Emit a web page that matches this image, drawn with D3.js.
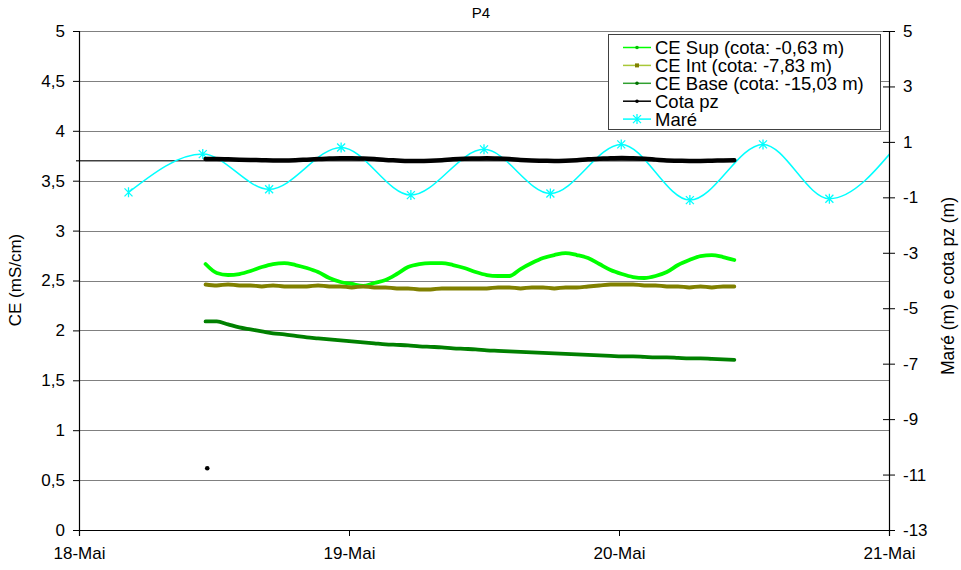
<!DOCTYPE html>
<html>
<head>
<meta charset="utf-8">
<script src="https://cdn.jsdelivr.net/npm/d3@7"></script>
<style>
  body { margin: 0; background: #fff; }
  text { font-family: "Liberation Sans", Arial, sans-serif; fill: #000; }
</style>
</head>
<body>
<svg id="chart" width="961" height="570"></svg>
<script>
// x categories: hours since 18-Mai 00:00
var dayHours = [0, 24, 48, 72];
var dayLabels = ["18-Mai", "19-Mai", "20-Mai", "21-Mai"];
var leftTicks = [0, 0.5, 1, 1.5, 2, 2.5, 3, 3.5, 4, 4.5, 5];
var rightTicks = [-13, -11, -9, -7, -5, -3, -1, 1, 3, 5];

// probe readings, one per hour
var probeHours = [11.25, 12.25, 13.25, 14.25, 15.25, 16.25, 17.25, 18.25, 19.25, 20.25,
  21.25, 22.25, 23.25, 24.25, 25.25, 26.25, 27.25, 28.25, 29.25, 30.25,
  31.25, 32.25, 33.25, 34.25, 35.25, 36.25, 37.25, 38.25, 39.25, 40.25,
  41.25, 42.25, 43.25, 44.25, 45.25, 46.25, 47.25, 48.25, 49.25, 50.25,
  51.25, 52.25, 53.25, 54.25, 55.25, 56.25, 57.25, 58.25];

var ceSup = [2.665, 2.575, 2.555, 2.565, 2.595, 2.635, 2.665, 2.675, 2.655, 2.625,
  2.585, 2.525, 2.485, 2.465, 2.445, 2.475, 2.505, 2.565, 2.635, 2.665,
  2.675, 2.675, 2.655, 2.625, 2.585, 2.555, 2.545, 2.545, 2.615, 2.675,
  2.725, 2.755, 2.775, 2.755, 2.725, 2.665, 2.605, 2.565, 2.535, 2.525,
  2.545, 2.585, 2.655, 2.705, 2.745, 2.755, 2.735, 2.705];

var ceInt = [2.46, 2.45, 2.46, 2.45, 2.45, 2.44, 2.45, 2.44, 2.44, 2.44,
  2.45, 2.44, 2.44, 2.43, 2.44, 2.43, 2.43, 2.42, 2.42, 2.41,
  2.41, 2.42, 2.42, 2.42, 2.42, 2.42, 2.43, 2.43, 2.42, 2.43,
  2.43, 2.42, 2.43, 2.43, 2.44, 2.45, 2.46, 2.46, 2.46, 2.45,
  2.45, 2.44, 2.44, 2.43, 2.44, 2.43, 2.44, 2.44];

var ceBase = [2.09, 2.09, 2.06, 2.03, 2.01, 1.99, 1.97, 1.96, 1.945, 1.93,
  1.92, 1.91, 1.90, 1.89, 1.88, 1.87, 1.86, 1.855, 1.85, 1.84,
  1.835, 1.83, 1.82, 1.815, 1.81, 1.80, 1.795, 1.79, 1.785, 1.78,
  1.775, 1.77, 1.765, 1.76, 1.755, 1.75, 1.745, 1.74, 1.74, 1.735,
  1.73, 1.73, 1.725, 1.72, 1.72, 1.715, 1.71, 1.705];

var cotaPz = [0.38, 0.38, 0.37, 0.36, 0.35, 0.34, 0.33, 0.33, 0.34, 0.36,
  0.38, 0.40, 0.41, 0.41, 0.40, 0.38, 0.35, 0.33, 0.31, 0.31,
  0.32, 0.34, 0.37, 0.39, 0.40, 0.41, 0.40, 0.38, 0.35, 0.33,
  0.32, 0.31, 0.32, 0.34, 0.37, 0.39, 0.41, 0.42, 0.41, 0.39,
  0.36, 0.33, 0.32, 0.31, 0.31, 0.32, 0.33, 0.34];

// lone cota pz reading before the series
var cotaLoneHour = [11.4];
var cotaLoneValue = [-10.77];

// tide extremes
var tideHours = [4.4, 11.0, 16.9, 23.3, 29.5, 36.0, 41.9, 48.2, 54.3, 60.8, 66.7, 73.0];
var tideLevel = [-0.82, 0.56, -0.71, 0.80, -0.92, 0.73, -0.86, 0.91, -1.10, 0.91, -1.05, 1.02];

var refLevel = 3.7;

var svg = d3.select("#chart");
var mLeft = 79, mRight = 889, mTop = 31, mBottom = 530;

var x = d3.scaleLinear().domain([0, 72]).range([mLeft, mRight]);
var yL = d3.scaleLinear().domain([0, 5]).range([mBottom, mTop]);
var yR = d3.scaleLinear().domain([-13, 5]).range([mBottom, mTop]);

svg.append("defs").append("clipPath").attr("id", "plot")
  .append("rect").attr("x", mLeft).attr("y", mTop - 2).attr("width", mRight - mLeft).attr("height", mBottom - mTop + 4);

// gridlines
svg.append("g").selectAll("line")
  .data(leftTicks.filter(d => d > 0))
  .enter().append("line")
  .attr("x1", mLeft).attr("x2", mRight)
  .attr("y1", d => Math.round(yL(d)) + 0.5).attr("y2", d => Math.round(yL(d)) + 0.5)
  .attr("stroke", "#808080").attr("stroke-width", 1);

// reference line
svg.append("line")
  .attr("x1", mLeft - 3).attr("x2", x(probeHours[probeHours.length - 1]))
  .attr("y1", yL(refLevel)).attr("y2", yL(refLevel))
  .attr("stroke", "#404040").attr("stroke-width", 1.5);

var plot = svg.append("g").attr("clip-path", "url(#plot)");

// tide
var tide = tideHours.map((h, i) => [h, tideLevel[i]]);
plot.append("path")
  .datum(tide)
  .attr("fill", "none").attr("stroke", "#00ffff").attr("stroke-width", 1.5)
  .attr("d", d3.line().x(d => x(d[0])).y(d => yR(d[1])).curve(d3.curveMonotoneX));

var star = "M-4,-4L4,4M-4,4L4,-4M0,-5L0,5";
plot.selectAll(".tm")
  .data(tide)
  .enter().append("path")
  .attr("class", "tm")
  .attr("transform", d => "translate(" + x(d[0]) + "," + yR(d[1]) + ")")
  .attr("d", star)
  .attr("stroke", "#00ffff").attr("stroke-width", 1.3).attr("fill", "none");

// CE series (left axis)
function drawLeft(values, color, w) {
  plot.append("path")
    .datum(probeHours.map((h, i) => [h, values[i]]))
    .attr("fill", "none").attr("stroke", color).attr("stroke-width", w)
    .attr("stroke-linejoin", "round").attr("stroke-linecap", "round")
    .attr("d", d3.line().x(d => x(d[0])).y(d => yL(d[1])).curve(d3.curveMonotoneX));
}
drawLeft(ceSup, "#00ff00", 3.8);
drawLeft(ceInt, "#808000", 3.8);
drawLeft(ceBase, "#008000", 3.8);

// cota pz (right axis)
plot.append("path")
  .datum(probeHours.map((h, i) => [h, cotaPz[i]]))
  .attr("fill", "none").attr("stroke", "#000").attr("stroke-width", 4.5)
  .attr("stroke-linejoin", "round").attr("stroke-linecap", "round")
  .attr("d", d3.line().x(d => x(d[0])).y(d => yR(d[1])).curve(d3.curveMonotoneX));

plot.selectAll(".lone")
  .data(cotaLoneHour)
  .enter().append("circle")
  .attr("cx", (d) => x(d)).attr("cy", (d, i) => yR(cotaLoneValue[i]))
  .attr("r", 2.3).attr("fill", "#000");

// axes
var axL = svg.append("g").attr("transform", "translate(" + mLeft + ",0)")
  .call(d3.axisLeft(yL).tickValues(leftTicks).tickSize(6).tickPadding(8)
    .tickFormat(d => String(d).replace(".", ",")));
var axR = svg.append("g").attr("transform", "translate(" + mRight + ",0)")
  .call(d3.axisRight(yR).tickValues(rightTicks).tickSize(6).tickPadding(8)
    .tickFormat(d => String(d)));
axR.selectAll(".tick line").attr("x1", -6);
var axB = svg.append("g").attr("transform", "translate(0," + mBottom + ")")
  .call(d3.axisBottom(x).tickValues(dayHours).tickSize(6).tickPadding(11)
    .tickFormat((d, i) => dayLabels[i]));

[axL, axR, axB].forEach(function (a) {
  a.select(".domain").attr("stroke", "#000").attr("stroke-width", 1.2);
  a.selectAll(".tick line").attr("stroke", "#000");
  a.selectAll("text").style("font-size", "17px").attr("fill", "#000")
    .style("font-family", '"Liberation Sans", Arial, sans-serif');
});

// titles
svg.append("text").attr("x", 481).attr("y", 18).attr("text-anchor", "middle")
  .style("font-size", "15px").text("P4");
svg.append("text").attr("transform", "translate(21,280) rotate(-90)")
  .attr("text-anchor", "middle").style("font-size", "17px").text("CE (mS/cm)");
svg.append("text").attr("transform", "translate(954,286) rotate(-90)")
  .attr("text-anchor", "middle").style("font-size", "17.5px").text("Maré (m) e cota pz (m)");

// legend
var legendNames = ["CE Sup (cota: -0,63 m)", "CE Int (cota: -7,83 m)", "CE Base (cota: -15,03 m)", "Cota pz", "Maré"];
var legendLine = ["#00ff00", "#a8c838", "#30a030", "#000", "#00ffff"];
var legendMark = ["#00c000", "#808000", "#007000", "#000", "#00ffff"];

var lg = svg.append("g");
lg.append("rect").attr("x", 608.5).attr("y", 34.5).attr("width", 272).attr("height", 95)
  .attr("fill", "#fff").attr("stroke", "#404040").attr("stroke-width", 1);
legendNames.forEach(function (name, i) {
  var cy = 47.5 + i * 17.9;
  lg.append("line").attr("x1", 623).attr("x2", 651).attr("y1", cy).attr("y2", cy)
    .attr("stroke", legendLine[i]).attr("stroke-width", 1.5);
  if (i === 4) {
    lg.append("path").attr("transform", "translate(637," + cy + ")")
      .attr("d", star).attr("stroke", "#00ffff").attr("stroke-width", 1.3);
  } else if (i === 1) {
    lg.append("rect").attr("x", 635).attr("y", cy - 2).attr("width", 4).attr("height", 4).attr("fill", legendMark[i]);
  } else {
    lg.append("circle").attr("cx", 637).attr("cy", cy).attr("r", 1.8).attr("fill", legendMark[i]);
  }
  lg.append("text").attr("x", 655).attr("y", cy + 6.5).style("font-size", "18.5px").text(name);
});
</script>
</body>
</html>
